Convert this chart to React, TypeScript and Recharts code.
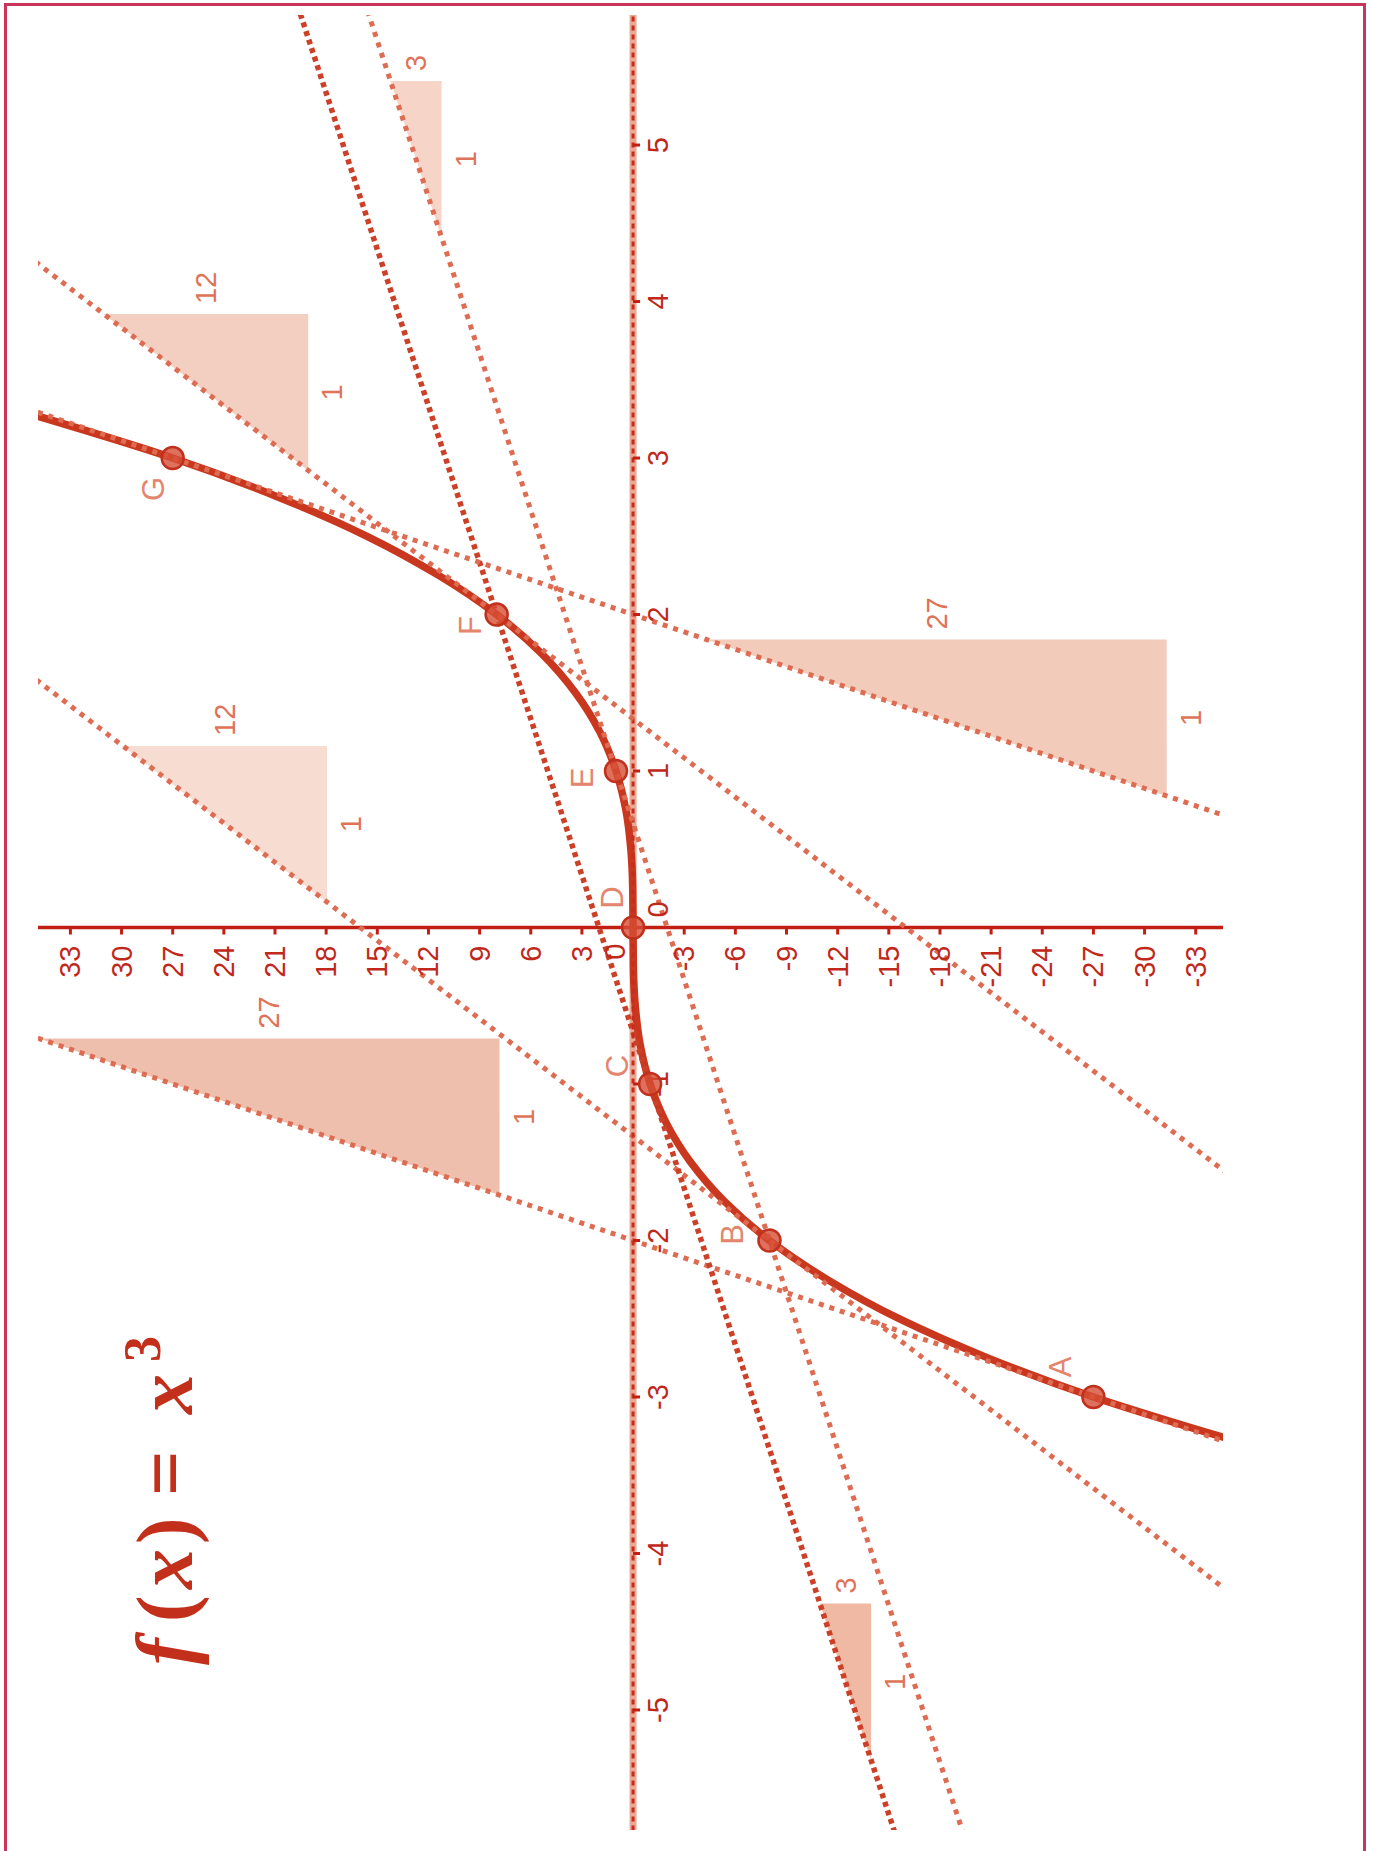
import React from 'react';
import {
  Area,
  ComposedChart,
  Line,
  ReferenceDot,
  ReferenceLine,
  Scatter,
  XAxis,
  YAxis,
} from 'recharts';

// f(x) = x^3
const curveX = [-3.27, -3, -2.75, -2.5, -2.25, -2, -1.75, -1.5, -1.25, -1, -0.75, -0.5, -0.25, 0, 0.25, 0.5, 0.75, 1, 1.25, 1.5, 1.75, 2, 2.25, 2.5, 2.75, 3, 3.27];
const curveY = [-35, -27, -20.8, -15.6, -11.4, -8, -5.36, -3.38, -1.95, -1, -0.42, -0.13, -0.02, 0, 0.02, 0.13, 0.42, 1, 1.95, 3.38, 5.36, 8, 11.4, 15.6, 20.8, 27, 35];

// named points on the curve
const pointNames = ['A', 'B', 'C', 'D', 'E', 'F', 'G'];
const pointX = [-3, -2, -1, 0, 1, 2, 3];
const pointY = [-27, -8, -1, 0, 1, 8, 27];

// tangent lines, given by two end points outside the plot
const tangentNames = ['A', 'B', 'C', 'D', 'E', 'F', 'G'];
const tangentStartX = [-3.5, -4.5, -6, -6, -6, -2, 0.5];
const tangentStartY = [-40.5, -38, -16, 0, -20, -40, -40.5];
const tangentEndX = [-0.5, 2, 6, 6, 6, 4.5, 3.5];
const tangentEndY = [40.5, 40, 20, 0, 16, 38, 40.5];

// slope triangles (run of 1, rise = slope)
const triangleNames = ['A', 'B', 'C', 'E', 'F', 'G'];
const triangleStartX = [-1.71, 0.16, -5.32, 4.41, 2.92, 0.84];
const triangleBaseY = [7.83, 17.95, -13.96, 11.23, 19.05, -31.3];
const triangleRise = [27, 12, 3, 3, 12, 27];

const xTicks = [-5, -4, -3, -2, -1, 1, 2, 3, 4, 5];
const yTicks = [-33, -30, -27, -24, -21, -18, -15, -12, -9, -6, -3, 3, 6, 9, 12, 15, 18, 21, 24, 27, 30, 33];

// chart is drawn upright and then turned a quarter turn to the left
const W = 1851;
const H = 1373;
const MARGIN = { top: 38, right: 15, bottom: 150, left: 21 };
const X_DOMAIN = [-5.767, 5.831];
const Y_DOMAIN = [-34.6, 34.9];

const AXIS = '#c21f14';
const CURVE = '#c9371f';
const TICK_TEXT = '#c0281b';
const SLOPE_TEXT = '#df7358';
const POINT_TEXT = '#e3866d';
const SANS = '"Liberation Sans", Arial, sans-serif';

const tangentStyle: Record<string, { stroke: string; width: number; dash: string }> = {
  C: { stroke: '#cc4027', width: 5.5, dash: '5 4' },
  D: { stroke: '#c62e1b', width: 3, dash: '5 4' },
};
const defaultTangent = { stroke: '#de6c52', width: 5, dash: '5 6' };

const triangleFill: Record<string, string> = {
  A: '#eebfac',
  B: '#f7dcd2',
  C: '#efb9a4',
  E: '#f6d5c8',
  F: '#f3cfc1',
  G: '#f2cbbb',
};

const pointLabelOffset: Record<string, [number, number]> = {
  A: [30, -33],
  B: [6, -37],
  C: [18, -33],
  D: [30, -21],
  E: [-7, -34],
  F: [-11, -27],
  G: [-31, -20],
};

const xTickShape = (p: any, t: number) => (
  <g>
    <line x1={p.cx} y1={p.cy} x2={p.cx} y2={p.cy + 7} stroke={AXIS} strokeWidth={3} />
    <text x={p.cx} y={p.cy + 35} textAnchor="middle" fontSize={29} fill={TICK_TEXT} fontFamily={SANS}>
      {t}
    </text>
  </g>
);

const yTickShape = (p: any, t: number) => (
  <g>
    <line x1={p.cx - 7} y1={p.cy} x2={p.cx} y2={p.cy} stroke={AXIS} strokeWidth={3} />
    <text x={p.cx - 18} y={p.cy + 10} textAnchor="end" fontSize={29} fill={TICK_TEXT} fontFamily={SANS}>
      {t}
    </text>
  </g>
);

const pointShape = (p: any) => {
  const name = p.payload?.name ?? '';
  const off = pointLabelOffset[name] || [0, -30];
  return (
    <g>
      <circle cx={p.cx} cy={p.cy} r={11} fill="#d64d35" fillOpacity={0.8} stroke="#c0301c" strokeWidth={2.5} />
      <text
        x={p.cx + off[0]}
        y={p.cy + off[1] + 11}
        textAnchor="middle"
        fontSize={31}
        fill={POINT_TEXT}
        fontFamily={SANS}
      >
        {name}
      </text>
    </g>
  );
};

export default function App() {
  const curveData = curveX.map((x, i) => ({ x, y: curveY[i] }));
  const pointData = pointNames.map((name, i) => ({ name, x: pointX[i], y: pointY[i] }));

  return (
    <div style={{ position: 'absolute', left: 0, top: 0, width: 1373, height: 1851, overflow: 'hidden', background: '#fff' }}>
      <div
        style={{
          position: 'absolute',
          left: 4,
          top: 3,
          width: 1362,
          height: 1900,
          boxSizing: 'border-box',
          borderLeft: '3px solid #c8345c',
          borderTop: '3px solid #c8345c',
          borderRight: '3px solid #c8345c',
        }}
      />
      <div
        style={{
          position: 'absolute',
          left: 0,
          top: 0,
          width: W,
          height: H,
          transformOrigin: '0 0',
          transform: `translate(0px, ${W}px) rotate(-90deg)`,
        }}
      >
        <ComposedChart width={W} height={H} margin={MARGIN}>
          <XAxis type="number" dataKey="x" domain={X_DOMAIN} allowDataOverflow hide />
          <YAxis type="number" domain={Y_DOMAIN} allowDataOverflow hide />

          {triangleNames.map((name, i) => {
            const x0 = triangleStartX[i];
            const b = triangleBaseY[i];
            return (
              <Area
                key={'tri' + name}
                data={[
                  { x: x0, range: [b, b] },
                  { x: x0 + 1, range: [b, b + triangleRise[i]] },
                ]}
                dataKey="range"
                type="linear"
                stroke="none"
                fill={triangleFill[name]}
                fillOpacity={1}
                isAnimationActive={false}
              />
            );
          })}

          <ReferenceLine y={0} stroke="#eca895" strokeWidth={7} />
          <ReferenceLine x={0} stroke={AXIS} strokeWidth={3.5} />

          <Line
            data={curveData}
            dataKey="y"
            type="monotone"
            stroke={CURVE}
            strokeWidth={7.5}
            dot={false}
            isAnimationActive={false}
          />

          {tangentNames.map((name, i) => {
            const st = tangentStyle[name] || defaultTangent;
            return (
              <Line
                key={'tan' + name}
                data={[
                  { x: tangentStartX[i], y: tangentStartY[i] },
                  { x: tangentEndX[i], y: tangentEndY[i] },
                ]}
                dataKey="y"
                type="linear"
                stroke={st.stroke}
                strokeWidth={st.width}
                strokeDasharray={st.dash}
                dot={false}
                isAnimationActive={false}
              />
            );
          })}

          {xTicks.map((t) => (
            <ReferenceDot key={'xt' + t} x={t} y={0} r={0} ifOverflow="visible" shape={(p: any) => xTickShape(p, t)} />
          ))}
          {yTicks.map((t) => (
            <ReferenceDot key={'yt' + t} x={0} y={t} r={0} ifOverflow="visible" shape={(p: any) => yTickShape(p, t)} />
          ))}
          <ReferenceDot
            x={0}
            y={0}
            r={0}
            ifOverflow="visible"
            shape={(p: any) => (
              <g fontFamily={SANS} fontSize={29} fill={TICK_TEXT}>
                <text x={p.cx + 18} y={p.cy + 35} textAnchor="middle">0</text>
                <text x={p.cx - 16} y={p.cy - 8} textAnchor="end">0</text>
              </g>
            )}
          />

          {triangleNames.map((name, i) => {
            const x0 = triangleStartX[i];
            const b = triangleBaseY[i];
            const rise = triangleRise[i];
            return (
              <React.Fragment key={'tl' + name}>
                <ReferenceDot
                  x={x0 + 0.5}
                  y={b}
                  r={0}
                  ifOverflow="visible"
                  shape={(p: any) => (
                    <text x={p.cx} y={p.cy + 34} textAnchor="middle" fontSize={29} fill={SLOPE_TEXT} fontFamily={SANS}>
                      1
                    </text>
                  )}
                />
                <ReferenceDot
                  x={x0 + 1}
                  y={b + rise / 2}
                  r={0}
                  ifOverflow="visible"
                  shape={(p: any) => (
                    <text x={p.cx + 10} y={p.cy + 10} textAnchor="start" fontSize={29} fill={SLOPE_TEXT} fontFamily={SANS}>
                      {rise}
                    </text>
                  )}
                />
              </React.Fragment>
            );
          })}

          <Scatter data={pointData} dataKey="y" shape={pointShape} isAnimationActive={false} />
        </ComposedChart>

        <svg width={W} height={H} style={{ position: 'absolute', left: 0, top: 0, pointerEvents: 'none' }}>
          <text fontFamily='"Liberation Serif", "DejaVu Serif", serif' fontWeight="bold" fill="#c2301c" fontSize={80}>
            <tspan x={186} y={192} fontStyle="italic">f</tspan>
            <tspan x={229} y={192}>(</tspan>
            <tspan x={262} y={192} fontStyle="italic">x</tspan>
            <tspan x={307} y={192}>)</tspan>
            <tspan x={355} y={192}>=</tspan>
            <tspan x={437} y={192} fontStyle="italic">x</tspan>
            <tspan x={489} y={160} fontSize={52}>3</tspan>
          </text>
        </svg>
      </div>
    </div>
  );
}
